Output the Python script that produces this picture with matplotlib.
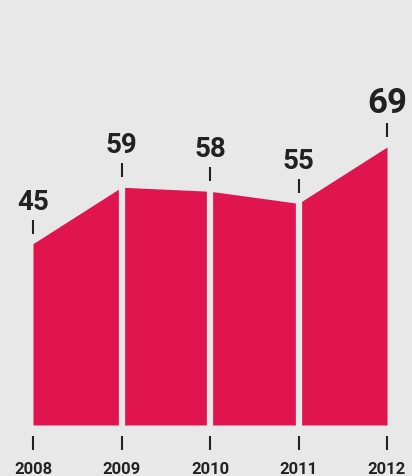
import matplotlib.pyplot as plt

years = [2008, 2009, 2010, 2011, 2012]
values = [45, 59, 58, 55, 69]
label_sizes = [20, 20, 20, 20, 25]

bg = '#e8e8e8'
red = '#e01550'
ink = '#222222'

fig = plt.figure(figsize=(4.12, 4.77), dpi=100, facecolor=bg)
ax = fig.add_axes([0, 0, 1, 1])
ax.set_facecolor(bg)

px_x = 88.5   # pixels per year
px_y = 4.03   # pixels per unit
ax.set_xlim(years[0] - 33 / px_x, years[-1] + 25 / px_x)
ax.set_ylim(-51 / px_y, 426 / px_y)
ax.axis('off')

ax.fill_between(years, 0, values, color=red, linewidth=0)
# background-coloured gaps cut through the area at the inner years
ax.vlines(years[1:-1], -0.5, [v + 2 for v in values[1:-1]], color=bg,
          linewidth=4.5, capstyle='butt')

# top ticks + value labels
ax.vlines(years, [v + 10 / px_y for v in values], [v + 24 / px_y for v in values],
          color=ink, linewidth=1.5)
for x, v, s in zip(years, values, label_sizes):
    ax.text(x, v + 35 / px_y, str(v), ha='center', va='baseline', fontsize=s,
            fontweight='bold', family='Roboto', color=ink)

# bottom ticks + year labels
ax.vlines(years, -11 / px_y, -25 / px_y, color=ink, linewidth=1.5)
for x in years:
    ax.text(x, -48 / px_y, str(x), ha='center', va='baseline', fontsize=12,
            fontweight='bold', family='Roboto', color=ink)

fig.savefig('out.png', dpi=100, facecolor=bg)
plt.close(fig)
